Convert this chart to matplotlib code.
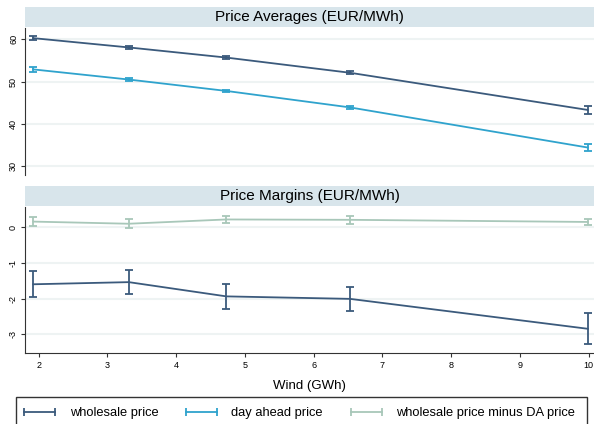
import numpy as np
import matplotlib.pyplot as plt
from matplotlib.patches import Rectangle
from matplotlib.lines import Line2D

plt.rcParams['font.family'] = ['Liberation Sans', 'DejaVu Sans']

# wind bins (GWh)
wind = [1.92, 3.31, 4.73, 6.53, 9.99]

# price averages (EUR/MWh) with 95% CI half widths
wholesale = [60.3, 58.1, 55.7, 52.1, 43.3]
wholesale_ci = [0.5, 0.35, 0.3, 0.4, 0.9]
day_ahead = [52.9, 50.5, 47.8, 43.9, 34.4]
day_ahead_ci = [0.5, 0.35, 0.3, 0.35, 0.9]

# price margins (EUR/MWh)
margin_wholesale = [-1.60, -1.54, -1.94, -2.01, -2.85]
margin_wholesale_ci = [0.37, 0.33, 0.36, 0.34, 0.44]
margin_spread = [0.16, 0.10, 0.22, 0.21, 0.15]
margin_spread_ci = [0.12, 0.12, 0.09, 0.11, 0.09]

labels = ["wholesale price", "day ahead price", "wholesale price minus DA price"]
c_navy = "#3b5a7c"
c_blue = "#2fa3cd"
c_green = "#a8c7b9"
strip_col = "#d8e5eb"
grid_col = "#eef3f3"
spine_col = "#333333"

W, H = 594, 424
fig = plt.figure(figsize=(W / 100, H / 100), dpi=100)


def px_axes(x0, y0, x1, y1):
    return fig.add_axes([x0 / W, 1 - y1 / H, (x1 - x0) / W, (y1 - y0) / H])


def add_strip(y0, y1, title):
    s = px_axes(25, y0, 594, y1)
    s.set_facecolor(strip_col)
    s.set_xticks([])
    s.set_yticks([])
    for sp in s.spines.values():
        sp.set_visible(False)
    s.text(0.5, 0.48, title, ha="center", va="center", fontsize=11, transform=s.transAxes)


def style(ax, yticks):
    ax.set_xlim(1.8, 10.08)
    ax.set_yticks(yticks)
    ax.grid(axis="y", color=grid_col, lw=1.5)
    ax.set_axisbelow(True)
    for sp in ["top", "right"]:
        ax.spines[sp].set_visible(False)
    ax.spines["left"].set_color(spine_col)
    ax.spines["bottom"].set_color(spine_col)
    ax.tick_params(axis="y", labelsize=6.5, length=3, color=spine_col, pad=2)


def series(ax, y, ci, color, lw=1.3):
    ax.errorbar(wind, y, yerr=ci, color=color, lw=lw, elinewidth=1.3, capsize=2.8, capthick=1.3)


# top panel: averages
add_strip(7, 27, "Price Averages (EUR/MWh)")
ax1 = px_axes(25, 28, 594, 175)
series(ax1, wholesale, wholesale_ci, c_navy)
series(ax1, day_ahead, day_ahead_ci, c_blue)
ax1.set_ylim(27.9, 62.7)
style(ax1, [30, 40, 50, 60])
ax1.set_xticks([])
ax1.spines["bottom"].set_visible(False)

# bottom panel: margins
add_strip(186, 206, "Price Margins (EUR/MWh)")
ax2 = px_axes(25, 207, 594, 353)
series(ax2, margin_spread, margin_spread_ci, c_green)
series(ax2, margin_wholesale, margin_wholesale_ci, c_navy)
ax2.set_ylim(-3.53, 0.57)
style(ax2, [-3, -2, -1, 0])
ax2.set_yticklabels(["-3", "-2", "-1", "0"])
ax2.set_xticks(range(2, 11))
ax2.tick_params(axis="x", labelsize=6.5, length=3, color=spine_col, pad=3)
ax2.set_xlabel("Wind (GWh)", fontsize=9.5, labelpad=7)

for ax in (ax1, ax2):
    for t in ax.get_yticklabels():
        t.set_rotation(90)
        t.set_va("center")

# legend
fig.patches.append(Rectangle((16 / W, 1 - 440 / H), 571 / W, 43 / H, transform=fig.transFigure,
                             fill=False, edgecolor=spine_col, lw=1.0))
handles = [Line2D([], [], color=c, lw=1.3, marker="|", markersize=6, markeredgewidth=1.3)
           for c in (c_navy, c_blue, c_green)]
fig.legend(handles, labels, loc="center left", bbox_to_anchor=(15 / W, 1 - 413 / H), ncol=3,
           frameon=False, fontsize=9.25, numpoints=2, handlelength=3.05, handletextpad=0.8,
           columnspacing=1.85, borderaxespad=0)

fig.savefig("out.png", dpi=100)
